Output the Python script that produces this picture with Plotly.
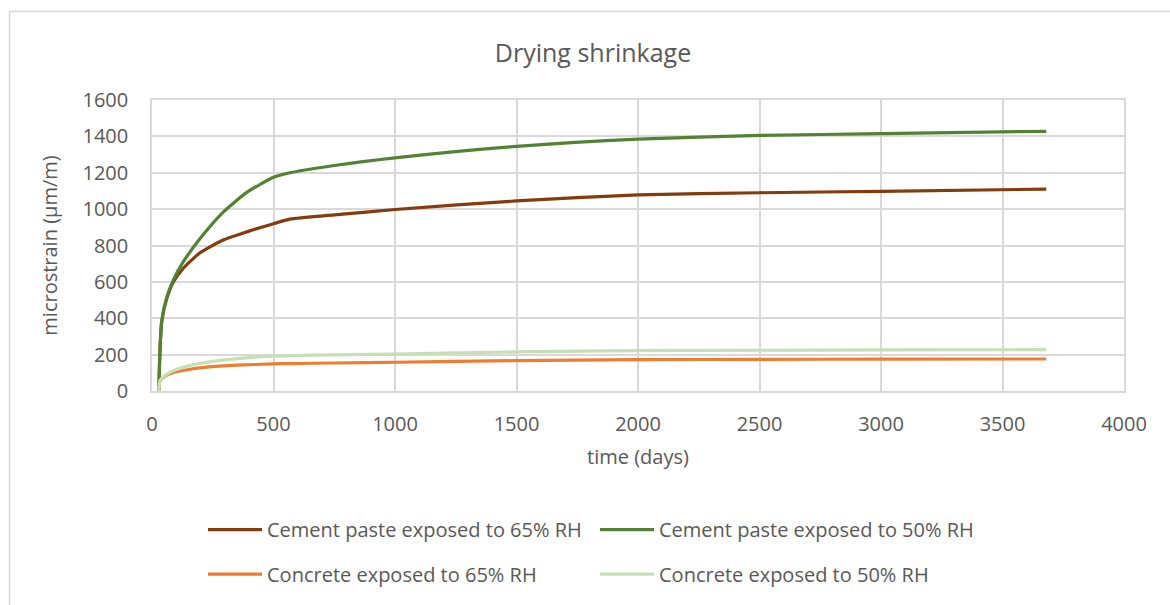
import plotly.graph_objects as go

# Data
days_paste = [28, 33, 40, 60, 88, 129, 198, 293, 390, 500, 568, 750, 1000, 1500, 2000, 2500, 3000, 3680]
paste_65 = [0, 230, 380, 505, 600, 675, 760, 830, 875, 920, 945, 968, 998, 1045, 1078, 1090, 1098, 1110]
paste_50 = [0, 230, 385, 511, 611, 711, 838, 983, 1092, 1175, 1200, 1240, 1282, 1345, 1385, 1405, 1415, 1428]

days_conc = [28, 33, 53, 88, 150, 225, 350, 500, 568, 750, 1000, 1500, 2000, 2500, 3000, 3680]
conc_65 = [0, 55, 82, 102, 118, 131, 142, 149, 151, 154, 158, 167, 172, 174, 175, 176]
conc_50 = [0, 58, 85, 112, 138, 158, 178, 192, 195, 199, 203, 215, 222, 224, 226, 227]

names = ["Cement paste exposed to 65% RH", "Cement paste exposed to 50% RH",
         "Concrete exposed to 65% RH", "Concrete exposed to 50% RH"]
colors = ["#843C0C", "#548235", "#ED7D31", "#C5E0B4"]
legend_ids = ["legend", "legend", "legend2", "legend2"]

fig = go.Figure()
series = [(days_paste, paste_65), (days_paste, paste_50), (days_conc, conc_65), (days_conc, conc_50)]
for (x, y), n, c, lg in zip(series, names, colors, legend_ids):
    fig.add_trace(go.Scatter(x=x, y=y, name=n, mode="lines", legend=lg,
                             line=dict(color=c, width=3.2, shape="spline", smoothing=0.6)))

font_family = "Open Sans"
txt = "#595959"
grid = "#D9D9D9"
PW, PH = 972, 294


def px_x(p):
    return (p - 152) / PW


def px_y(p):
    return (394 - p) / PH


leg_common = dict(orientation="h", xanchor="left", yanchor="middle",
                  entrywidth=323, entrywidthmode="pixels", itemwidth=54,
                  font=dict(size=20, color=txt), bgcolor="rgba(0,0,0,0)")

fig.update_layout(
    width=1170, height=605,
    margin=dict(l=152, r=46, t=100, b=211),
    paper_bgcolor="white", plot_bgcolor="white",
    font=dict(family=font_family, color=txt, size=20),
    title=dict(text="Drying shrinkage", x=593 / 1170, xref="container", xanchor="center",
               y=1 - 53 / 605, yref="container", yanchor="middle",
               font=dict(size=25, color=txt)),
    showlegend=True,
    legend=dict(x=px_x(203), y=px_y(534), **leg_common),
    legend2=dict(x=px_x(203), y=px_y(579), **leg_common),
)
fig.update_xaxes(range=[0, 4000], dtick=500, showgrid=True, gridcolor=grid, gridwidth=1.5,
                 showline=True, linecolor=grid, linewidth=1.5, mirror=True, zeroline=False,
                 ticks="", tickfont=dict(size=20), ticklabelstandoff=14,
                 title=dict(text="time (days)", font=dict(size=20), standoff=14))
fig.update_yaxes(range=[0, 1600], dtick=200, showgrid=True, gridcolor=grid, gridwidth=1.5,
                 showline=True, linecolor=grid, linewidth=1.5, mirror=True, zeroline=False,
                 ticks="", tickfont=dict(size=20), ticklabelstandoff=18,
                 title=dict(text="microstrain (µm/m)", font=dict(size=20), standoff=20))

# outer chart border
fig.add_shape(type="rect", xref="paper", yref="paper",
              x0=px_x(9.5), x1=px_x(1180), y0=px_y(620), y1=px_y(10.5),
              line=dict(color="#D9D9D9", width=1.5), layer="below")

fig.write_html("out.html")
